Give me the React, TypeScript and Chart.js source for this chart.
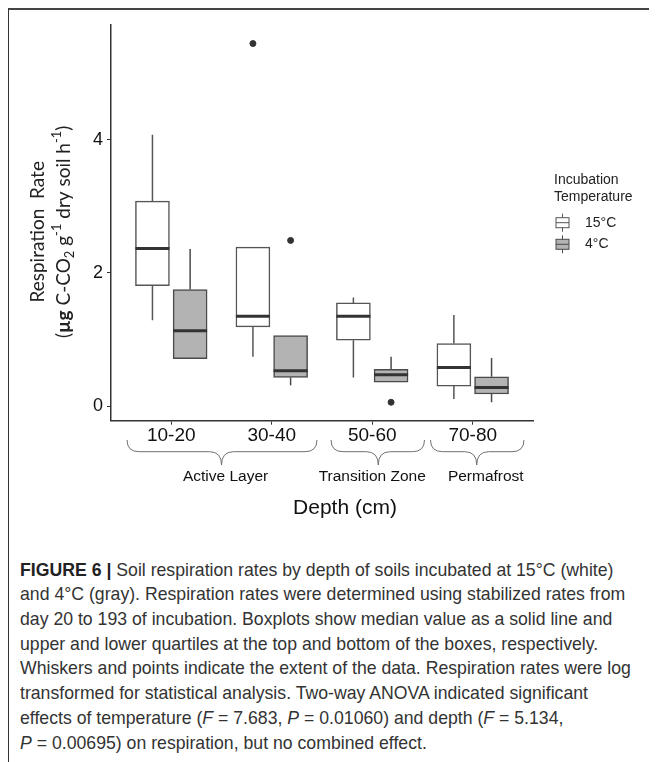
import React, { useEffect, useRef } from "react";
import { Chart, registerables } from "chart.js";
Chart.register(...registerables);

// ---------- data ----------
const categories = ["10-20", "30-40", "50-60", "70-80"];
const seriesNames = ["15°C", "4°C"];
// each row: [min, q1, median, q3, max]
const box15 = [
  [1.29, 1.81, 2.37, 3.08, 4.08],
  [0.74, 1.19, 1.35, 2.39, 2.39],
  [0.43, 0.99, 1.35, 1.55, 1.63],
  [0.105, 0.3, 0.58, 0.94, 1.37],
];
const box4 = [
  [0.71, 0.71, 1.13, 1.75, 2.36],
  [0.31, 0.43, 0.53, 1.06, 1.06],
  [0.36, 0.36, 0.47, 0.55, 0.74],
  [0.056, 0.18, 0.28, 0.44, 0.72],
];
const outliers15 = [[], [5.45], [], []];
const outliers4 = [[], [2.49], [0.056], []];
const yTicks = [0, 2, 4];
const groupNames = ["Active Layer", "Transition Zone", "Permafrost"];
const groupStart = [0.56, 2.59, 3.58];
const groupEnd = [2.45, 3.52, 4.51];
const groupTip = [1.5, 3.06, 4.04];
const groupLabelAt = [1.54, 3.0, 4.13];

const DODGE = 0.1875;
const SANS = '"Liberation Sans", Arial, sans-serif';
const FILL = ["#ffffff", "#b3b3b3"];
const STROKE = ["#555555", "#4a4a4a"];

const boxes = [box15, box4];
const outs = [outliers15, outliers4];
const offsets = [-DODGE, DODGE];

type Seg = { t: string; b?: boolean; sub?: boolean; sup?: boolean };

function drawRich(ctx: CanvasRenderingContext2D, segs: Seg[], size: number, family: string) {
  const fontFor = (s: Seg) =>
    `${s.b ? "bold " : ""}${s.sub || s.sup ? size * 0.68 : size}px ${family}`;
  let total = 0;
  const widths: number[] = [];
  segs.forEach((s) => {
    ctx.font = fontFor(s);
    const w = ctx.measureText(s.t).width;
    widths.push(w);
    total += w;
  });
  let x = -total / 2;
  segs.forEach((s, i) => {
    ctx.font = fontFor(s);
    const dy = s.sub ? size * 0.3 : s.sup ? -size * 0.38 : 0;
    ctx.fillText(s.t, x, dy);
    x += widths[i];
  });
}

const extrasPlugin = {
  id: "extras",
  beforeDatasetsDraw(chart: any) {
    const ctx = chart.ctx as CanvasRenderingContext2D;
    const xs = chart.scales.x;
    const ys = chart.scales.y;
    ctx.save();
    boxes.forEach((bx, s) => {
      bx.forEach((row, i) => {
        const xc = xs.getPixelForValue(i + 1 + offsets[s]);
        ctx.strokeStyle = STROKE[s];
        ctx.lineWidth = 1.5;
        ctx.beginPath();
        ctx.moveTo(xc, ys.getPixelForValue(row[3]));
        ctx.lineTo(xc, ys.getPixelForValue(row[4]));
        ctx.moveTo(xc, ys.getPixelForValue(row[1]));
        ctx.lineTo(xc, ys.getPixelForValue(row[0]));
        ctx.stroke();
      });
    });
    ctx.restore();
  },
  afterDatasetsDraw(chart: any) {
    const ctx = chart.ctx as CanvasRenderingContext2D;
    const ys = chart.scales.y;
    ctx.save();
    boxes.forEach((bx, s) => {
      const meta = chart.getDatasetMeta(s);
      bx.forEach((row, i) => {
        const el = meta.data[i];
        const half = el.width / 2;
        const xc = el.x;
        const y = ys.getPixelForValue(row[2]);
        ctx.strokeStyle = "#333333";
        ctx.lineWidth = 3;
        ctx.beginPath();
        ctx.moveTo(xc - half, y);
        ctx.lineTo(xc + half, y);
        ctx.stroke();
      });
    });
    ctx.restore();
  },
  afterDraw(chart: any) {
    const ctx = chart.ctx as CanvasRenderingContext2D;
    const xs = chart.scales.x;
    const area = chart.chartArea;
    ctx.save();
    // braces + group labels
    const yTop = area.bottom + 19.3;
    groupNames.forEach((g, k) => {
      const x1 = xs.getPixelForValue(groupStart[k]);
      const x2 = xs.getPixelForValue(groupEnd[k]);
      const xm = xs.getPixelForValue(groupTip[k]);
      const y2 = yTop + 11.7;
      const y3 = yTop + 25;
      const r = 12;
      ctx.strokeStyle = "#707070";
      ctx.lineWidth = 1;
      ctx.beginPath();
      ctx.moveTo(x1, yTop);
      ctx.quadraticCurveTo(x1, y2, x1 + r, y2);
      ctx.lineTo(xm - r, y2);
      ctx.quadraticCurveTo(xm, y2, xm, y3);
      ctx.quadraticCurveTo(xm, y2, xm + r, y2);
      ctx.lineTo(x2 - r, y2);
      ctx.quadraticCurveTo(x2, y2, x2, yTop);
      ctx.stroke();
      ctx.fillStyle = "#111111";
      ctx.font = `15.5px ${SANS}`;
      ctx.textAlign = "center";
      ctx.textBaseline = "middle";
      ctx.fillText(g, xs.getPixelForValue(groupLabelAt[k]), area.bottom + 56);
    });
    // x title
    ctx.fillStyle = "#111111";
    ctx.font = `21px ${SANS}`;
    ctx.textAlign = "center";
    ctx.textBaseline = "middle";
    ctx.fillText("Depth (cm)", 336, area.bottom + 87.5);

    // y title
    const cy = (area.top + area.bottom) / 2 + 9;
    ctx.fillStyle = "#222222";
    ctx.textAlign = "left";
    ctx.textBaseline = "middle";
    ctx.save();
    ctx.translate(29, cy);
    ctx.rotate(-Math.PI / 2);
    drawRich(ctx, [{ t: "Respiration  Rate" }], 19, "Lato");
    ctx.restore();
    ctx.save();
    ctx.translate(55, cy);
    ctx.rotate(-Math.PI / 2);
    drawRich(
      ctx,
      [
        { t: "(" },
        { t: "µg", b: true },
        { t: " C-CO" },
        { t: "2", sub: true },
        { t: " g" },
        { t: "-1", sup: true },
        { t: " dry soil h" },
        { t: "-1", sup: true },
        { t: ")" },
      ],
      19,
      "Lato"
    );
    ctx.restore();

    // legend
    const lx = 545;
    ctx.fillStyle = "#222222";
    ctx.font = `14px ${SANS}`;
    ctx.textAlign = "left";
    ctx.textBaseline = "middle";
    ctx.fillText("Incubation", lx, 170);
    ctx.fillText("Temperature", lx, 187);
    const iconY = [212.7, 234.3];
    seriesNames.forEach((n, s) => {
      const cx = 553.5;
      const cyy = iconY[s];
      ctx.strokeStyle = STROKE[s];
      ctx.lineWidth = 1;
      ctx.beginPath();
      ctx.moveTo(cx, cyy - 9);
      ctx.lineTo(cx, cyy + 9);
      ctx.stroke();
      ctx.fillStyle = FILL[s];
      ctx.fillRect(cx - 6.5, cyy - 5, 13, 10);
      ctx.strokeRect(cx - 6.5, cyy - 5, 13, 10);
      ctx.beginPath();
      ctx.moveTo(cx - 6.5, cyy);
      ctx.lineTo(cx + 6.5, cyy);
      ctx.stroke();
      ctx.fillStyle = "#222222";
      ctx.font = `14px ${SANS}`;
      ctx.fillText(n, 576, cyy);
    });
    ctx.restore();
  },
};

export default function App() {
  const ref = useRef<HTMLCanvasElement>(null);
  useEffect(() => {
    if (!ref.current) return;
    const datasets: any[] = boxes.map((bx, s) => ({
      type: "bar",
      label: seriesNames[s],
      data: bx.map((row, i) => ({ x: i + 1 + offsets[s], y: [row[1], row[3]] })),
      backgroundColor: FILL[s],
      borderColor: STROKE[s],
      borderWidth: 1.5,
      borderSkipped: false,
      barThickness: 34,
      grouped: false,
    }));
    outs.forEach((o, s) => {
      const pts: { x: number; y: number }[] = [];
      o.forEach((vals, i) => vals.forEach((v) => pts.push({ x: i + 1 + offsets[s], y: v })));
      datasets.push({
        type: "scatter",
        label: seriesNames[s] + " outliers",
        data: pts,
        pointRadius: 3,
        pointBackgroundColor: "#333333",
        pointBorderColor: "#333333",
        showLine: false,
      });
    });
    const chart = new Chart(ref.current, {
      type: "bar",
      data: { datasets },
      plugins: [extrasPlugin],
      options: {
        animation: false,
        responsive: false,
        maintainAspectRatio: false,
        layout: { padding: { left: 62, right: 124, top: 15, bottom: 0 } },
        plugins: { legend: { display: false }, tooltip: { enabled: false } },
        scales: {
          x: {
            type: "linear",
            min: 0.4,
            max: 4.6,
            offset: false,
            afterBuildTicks: (s: any) => {
              s.ticks = categories.map((_, i) => ({ value: i + 1 }));
            },
            afterFit: (s: any) => {
              s.height = 109.3;
            },
            ticks: {
              callback: (v: any) => categories[Math.round(v) - 1] ?? "",
              font: { family: SANS, size: 19 },
              color: "#111111",
              padding: 0,
              maxRotation: 0,
              autoSkip: false,
            },
            grid: {
              display: true,
              offset: false,
              drawOnChartArea: false,
              drawTicks: true,
              tickLength: 4,
              color: "#333333",
            },
            border: { display: true, color: "#333333", width: 1.5 },
          },
          y: {
            min: -0.221,
            max: 5.729,
            afterBuildTicks: (s: any) => {
              s.ticks = yTicks.map((v) => ({ value: v }));
            },
            afterFit: (s: any) => {
              s.width = 40;
            },
            ticks: {
              font: { family: SANS, size: 18 },
              color: "#111111",
              padding: 4,
            },
            grid: {
              display: true,
              drawOnChartArea: false,
              drawTicks: true,
              tickLength: 4,
              color: "#333333",
            },
            border: { display: true, color: "#333333", width: 1.5 },
          },
        },
      } as any,
    });
    return () => chart.destroy();
  }, []);

  return (
    <div
      style={{
        height: 754,
        borderTop: "2px solid #444",
        borderLeft: "1px solid #333",
        boxSizing: "border-box",
        overflow: "hidden",
      }}
    >
      <style>{`html,body{overflow:hidden}`}</style>
      <canvas ref={ref} width={648} height={520} style={{ display: "block", width: 648, height: 520 }} />
      <div
        style={{
          marginTop: 27.6,
          paddingLeft: 11,
          fontFamily: '"Liberation Sans", Arial, sans-serif',
          fontSize: 19,
          lineHeight: "24.7px",
          color: "#333",
          whiteSpace: "nowrap",
          transform: "scaleX(0.93)",
          transformOrigin: "11px 0",
        }}
      >
        <b style={{ color: "#222" }}>FIGURE 6 |</b> Soil respiration rates by depth of soils incubated at 15°C (white)
        <br />
        and 4°C (gray). Respiration rates were determined using stabilized rates from
        <br />
        day 20 to 193 of incubation. Boxplots show median value as a solid line and
        <br />
        upper and lower quartiles at the top and bottom of the boxes, respectively.
        <br />
        Whiskers and points indicate the extent of the data. Respiration rates were log
        <br />
        transformed for statistical analysis. Two-way ANOVA indicated significant
        <br />
        effects of temperature (<i>F</i> = 7.683, <i>P</i> = 0.01060) and depth (<i>F</i> = 5.134,
        <br />
        <i>P</i> = 0.00695) on respiration, but no combined effect.
      </div>
    </div>
  );
}
